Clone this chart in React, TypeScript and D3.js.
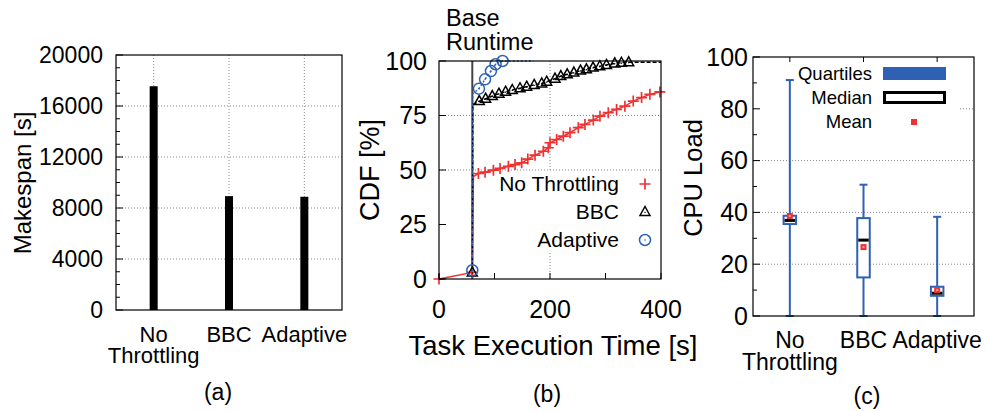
import React from "react";
import * as d3 from "d3";

// ---------- data ----------
const categories = ["No Throttling", "BBC", "Adaptive"];
const categoryLines = [["No", "Throttling"], ["BBC"], ["Adaptive"]];

// (a) makespan
const makespan = [17550, 8930, 8880];
const makespanTicks = [0, 4000, 8000, 12000, 16000, 20000];

// (b) CDF of task execution time
const noThrottleTime = [0, 60, 62, 71, 83, 98, 110, 125, 137, 149, 160, 173, 188, 197, 200, 212, 224, 236, 251, 263, 278, 290, 305, 320, 335, 350, 365, 380, 398];
const noThrottleCdf = [0, 3, 47, 48.4, 49, 49.9, 50.7, 51.7, 52.5, 53.3, 55, 56.8, 58.6, 60.2, 62.5, 64, 65.5, 67.1, 69.4, 70.9, 72.9, 74.7, 76.3, 77.8, 79.3, 81.6, 83.2, 84.7, 85.8];
const bbcTime = [60, 61, 72.6, 84, 96, 108, 120, 132, 146, 158, 171.5, 185, 194, 209, 219.5, 231, 243, 255, 265.6, 277.6, 289.7, 301.7, 316.7, 328.7, 341.8, 400];
const bbcCdf = [3, 80, 81.6, 82.7, 83.9, 85, 85.9, 86.7, 87.5, 88.2, 89, 89.7, 90.5, 91.9, 93.1, 93.9, 94.7, 95.6, 96.2, 97, 97.6, 98.2, 98.9, 99.2, 99.4, 99.4];
const adaptiveTime = [60, 61, 72, 83, 93.6, 102, 114.6, 170];
const adaptiveCdf = [4, 85, 87.3, 91.6, 95.4, 98.5, 100, 100];
const baseRuntime = 60;
const timeTicks = [0, 100, 200, 300, 400];
const timeTickLabels = [0, 200, 400];
const cdfTicks = [0, 25, 50, 75, 100];

// (c) CPU load box plot
const cpuMin = [0, 0, 0];
const cpuQ1 = [35.5, 14.9, 7.8];
const cpuMedian = [36.9, 29.3, 8.8];
const cpuQ3 = [38.7, 37.8, 11.3];
const cpuMax = [91.1, 50.7, 38.3];
const cpuMean = [38.6, 26.6, 10];
const cpuTicks = [0, 20, 40, 60, 80, 100];
const cpuMinorTicks = [10, 30, 50, 70, 90];

// ---------- style ----------
const FONT = "'Liberation Sans', Arial, Helvetica, sans-serif";
const RED = "#ee3232";
const BLUE = "#2e61b3";
const GRID = "#8a8a8a";

function PanelA() {
  const x = d3.scalePoint<string>().domain(categories).range([116, 342]).padding(0.5);
  const y = d3.scaleLinear().domain([0, 20000]).range([310, 55]);
  const minor = d3.range(1000, 20000, 1000).filter((v) => v % 4000 !== 0);
  const fs = 23;
  return (
    <g fontFamily={FONT} fill="#000">
      {makespanTicks.slice(1, -1).map((t) => (
        <line key={"g" + t} x1={116} x2={342} y1={y(t)} y2={y(t)} stroke={GRID} strokeDasharray="1,2" />
      ))}
      {categories.map((c) => (
        <line key={"vg" + c} x1={x(c)} x2={x(c)} y1={55} y2={310} stroke={GRID} strokeDasharray="1,2" />
      ))}
      {categories.map((c, i) => (
        <rect key={"b" + c} x={x(c)! - 4} width={8} y={y(makespan[i])} height={y(0) - y(makespan[i])} fill="#000" />
      ))}
      <rect x={116} y={55} width={226} height={255} fill="none" stroke="#000" strokeWidth={1.2} />
      {makespanTicks.map((t) => (
        <g key={"t" + t}>
          <line x1={116} x2={123} y1={y(t)} y2={y(t)} stroke="#000" />
          <text x={103} y={y(t)} dy="0.35em" textAnchor="end" fontSize={fs}>{t}</text>
        </g>
      ))}
      {minor.map((t) => (
        <line key={"m" + t} x1={116} x2={120} y1={y(t)} y2={y(t)} stroke="#000" />
      ))}
      {categories.map((c, i) =>
        categoryLines[i].map((l, j) => (
          <text key={"c" + c + j} x={x(c)} y={342 + j * 21} textAnchor="middle" fontSize={22}>{l}</text>
        ))
      )}
      <text transform="translate(31,183) rotate(-90)" textAnchor="middle" fontSize={24}>Makespan [s]</text>
      <text x={218} y={400} textAnchor="middle" fontSize={23}>(a)</text>
    </g>
  );
}

function Plus({ cx, cy }: { cx: number; cy: number }) {
  return (
    <path d={`M${cx - 5.5},${cy}H${cx + 5.5}M${cx},${cy - 5.5}V${cy + 5.5}`} stroke={RED} strokeWidth={1.7} fill="none" />
  );
}
function Tri({ cx, cy }: { cx: number; cy: number }) {
  return (
    <g>
      <path d={`M${cx},${cy - 5.5}L${cx + 5},${cy + 3.5}L${cx - 5},${cy + 3.5}Z`} stroke="#000" strokeWidth={1.5} fill="none" />
      <rect x={cx - 0.6} y={cy - 0.2} width={1.2} height={1.2} fill="#000" />
    </g>
  );
}
function Circ({ cx, cy }: { cx: number; cy: number }) {
  return (
    <g>
      <circle cx={cx} cy={cy} r={5.5} stroke={BLUE} strokeWidth={1.5} fill="none" />
      <circle cx={cx} cy={cy} r={0.8} fill={BLUE} />
    </g>
  );
}

function PanelB() {
  const L = 439, R = 661, T = 61, B = 279;
  const x = d3.scaleLinear().domain([0, 400]).range([L, R]);
  const y = d3.scaleLinear().domain([0, 100]).range([B, T]);
  const line = d3.line<[number, number]>().x((d) => x(d[0])).y((d) => y(d[1]));
  const nt = noThrottleTime.map((t, i) => [t, noThrottleCdf[i]] as [number, number]);
  const bb = bbcTime.map((t, i) => [t, bbcCdf[i]] as [number, number]);
  const ad = adaptiveTime.map((t, i) => [t, adaptiveCdf[i]] as [number, number]);
  const legendY = [184, 212, 240];
  return (
    <g fontFamily={FONT} fill="#000">
      {[50, 75].map((t) => (
        <line key={"g" + t} x1={L} x2={R} y1={y(t)} y2={y(t)} stroke={GRID} strokeDasharray="1,2" />
      ))}
      <line x1={x(200)} x2={x(200)} y1={T} y2={B} stroke={GRID} strokeDasharray="1,2" />
      <rect x={482} y={172} width={177} height={81} fill="#fff" />
      <line x1={x(baseRuntime)} x2={x(baseRuntime)} y1={T} y2={B} stroke="#444" strokeWidth={2} />
      <path d={line(nt)!} stroke={RED} strokeWidth={1.5} fill="none" />
      <path d={line(bb)!} stroke="#000" strokeWidth={1.5} strokeDasharray="4,2" fill="none" />
      <path d={line(ad)!} stroke={BLUE} strokeWidth={1.5} strokeDasharray="2,2" fill="none" />
      {nt.filter((_, i) => i !== 2).map((d, i) => <Plus key={"p" + i} cx={x(d[0])} cy={y(d[1])} />)}
      {bb.filter((_, i) => i !== 1 && i !== bb.length - 1).map((d, i) => <Tri key={"t" + i} cx={x(d[0])} cy={y(d[1])} />)}
      {ad.filter((_, i) => i !== 1 && i !== ad.length - 1).map((d, i) => <Circ key={"c" + i} cx={x(d[0])} cy={y(d[1])} />)}
      <rect x={L} y={T} width={R - L} height={B - T} fill="none" stroke="#000" strokeWidth={1.2} />
      {cdfTicks.map((t) => (
        <g key={"yt" + t}>
          <line x1={L} x2={L + 7} y1={y(t)} y2={y(t)} stroke="#000" />
          <text x={427} y={y(t)} dy="0.35em" textAnchor="end" fontSize={25}>{t}</text>
        </g>
      ))}
      {timeTicks.map((t) => (
        <line key={"xt" + t} x1={x(t)} x2={x(t)} y1={B} y2={B - 6} stroke="#000" />
      ))}
      {timeTickLabels.map((t) => (
        <text key={"xl" + t} x={x(t)} y={318} textAnchor="middle" fontSize={25}>{t}</text>
      ))}
      <text x={553} y={355} textAnchor="middle" fontSize={27.5}>Task Execution Time [s]</text>
      <text transform="translate(379,170) rotate(-90)" textAnchor="middle" fontSize={27}>CDF [%]</text>
      <text x={446} y={26} fontSize={23.5}>Base</text>
      <text x={446} y={50} fontSize={23.5}>Runtime</text>
      <text x={619} y={legendY[0]} dy="0.35em" textAnchor="end" fontSize={21}>No Throttling</text>
      <text x={619} y={legendY[1]} dy="0.35em" textAnchor="end" fontSize={21}>BBC</text>
      <text x={619} y={legendY[2]} dy="0.35em" textAnchor="end" fontSize={21}>Adaptive</text>
      <Plus cx={645} cy={legendY[0]} />
      <Tri cx={645} cy={legendY[1]} />
      <Circ cx={645} cy={legendY[2]} />
      <text x={547} y={402} textAnchor="middle" fontSize={23}>(b)</text>
    </g>
  );
}

function PanelC() {
  const L = 753, R = 974, T = 57, B = 316;
  const x = d3.scalePoint<string>().domain(categories).range([L, R]).padding(0.5);
  const y = d3.scaleLinear().domain([0, 100]).range([B, T]);
  const bw = 12.5;
  return (
    <g fontFamily={FONT} fill="#000">
      {[20, 40, 60, 80].map((t) => (
        <line key={"g" + t} x1={L} x2={R} y1={y(t)} y2={y(t)} stroke={GRID} strokeDasharray="1,2" />
      ))}
      <rect x={755} y={60} width={203} height={70} fill="#fff" />
      {categories.map((c, i) => {
        const cx = x(c)!;
        return (
          <g key={"box" + c}>
            <line x1={cx} x2={cx} y1={y(cpuMin[i])} y2={y(cpuQ1[i])} stroke={BLUE} strokeWidth={2} />
            <line x1={cx} x2={cx} y1={y(cpuQ3[i])} y2={y(cpuMax[i])} stroke={BLUE} strokeWidth={2} />
            <line x1={cx - 4} x2={cx + 4} y1={y(cpuMax[i])} y2={y(cpuMax[i])} stroke={BLUE} strokeWidth={2} />
            <line x1={cx - 4} x2={cx + 4} y1={y(cpuMin[i])} y2={y(cpuMin[i])} stroke={BLUE} strokeWidth={2} />
            <rect x={cx - bw / 2} y={y(cpuQ3[i])} width={bw} height={y(cpuQ1[i]) - y(cpuQ3[i])} fill="#fff" stroke={BLUE} strokeWidth={2} />
            <line x1={cx - bw / 2 + 1} x2={cx + bw / 2 - 1} y1={y(cpuMedian[i])} y2={y(cpuMedian[i])} stroke="#000" strokeWidth={3} />
            <rect x={cx - 3} y={y(cpuMean[i]) - 3} width={6} height={6} fill={RED} />
            <rect x={cx - 1} y={y(cpuMean[i]) - 1} width={2} height={2} fill="#f8a0a0" />
          </g>
        );
      })}
      <rect x={L} y={T} width={R - L} height={B - T} fill="none" stroke="#000" strokeWidth={1.2} />
      {cpuTicks.map((t) => (
        <g key={"yt" + t}>
          <line x1={L} x2={L + 7} y1={y(t)} y2={y(t)} stroke="#000" />
          <text x={748} y={y(t)} dy="0.35em" textAnchor="end" fontSize={25}>{t}</text>
        </g>
      ))}
      {cpuMinorTicks.map((t) => (
        <line key={"mt" + t} x1={L} x2={L + 4} y1={y(t)} y2={y(t)} stroke="#000" />
      ))}
      {categories.map((c) => (
        <line key={"tt" + c} x1={x(c)} x2={x(c)} y1={T} y2={T + 5} stroke="#000" />
      ))}
      {categories.map((c, i) =>
        categoryLines[i].map((l, j) => (
          <text key={"cl" + c + j} x={x(c)} y={348 + j * 22} textAnchor="middle" fontSize={23}>{l}</text>
        ))
      )}
      <text transform="translate(702,178) rotate(-90)" textAnchor="middle" fontSize={25.5}>CPU Load</text>
      <text x={872} y={74} dy="0.35em" textAnchor="end" fontSize={18.5}>Quartiles</text>
      <text x={872} y={98} dy="0.35em" textAnchor="end" fontSize={18.5}>Median</text>
      <text x={872} y={122} dy="0.35em" textAnchor="end" fontSize={18.5}>Mean</text>
      <rect x={883} y={67} width={63} height={13} fill={BLUE} />
      <rect x={884.5} y={92.5} width={60} height={10} fill="#fff" stroke="#000" strokeWidth={3} />
      <rect x={911} y={119} width={6} height={6} fill={RED} />
      <text x={867} y={404} textAnchor="middle" fontSize={23}>(c)</text>
    </g>
  );
}

export default function App() {
  return (
    <svg width={987} height={411} style={{ position: "absolute", left: 0, top: 0, background: "#fff" }}>
      <rect width={987} height={411} fill="#fff" />
      <PanelA />
      <PanelB />
      <PanelC />
    </svg>
  );
}
